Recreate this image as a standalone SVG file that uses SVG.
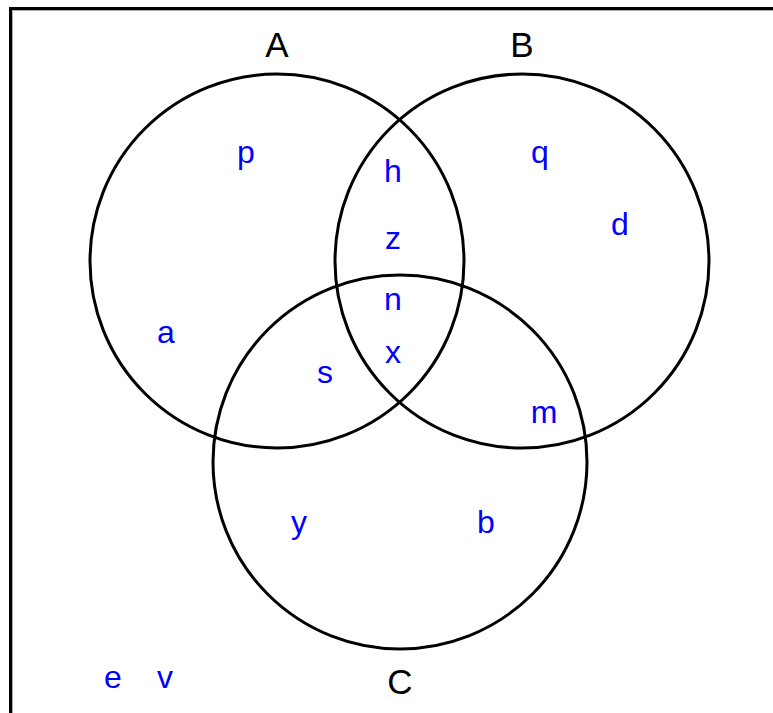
<svg xmlns="http://www.w3.org/2000/svg" width="773" height="713" viewBox="0 0 773 713">
<style>
.set{fill:none;stroke:#000;stroke-width:3}
.lbl{font-family:"Liberation Sans",Arial,sans-serif;font-size:35px;fill:#000;text-anchor:middle}
.el{font-family:"Liberation Sans",Arial,sans-serif;font-size:32px;fill:#0000ff;text-anchor:middle}
</style>
<rect x="0" y="0" width="773" height="713" fill="#fff"/>
<g id="frame">
<path d="M12.5 713 V10.5 H773" fill="none" stroke="#aaa" stroke-width="1"/>
<path d="M10.5 713 V8.5 H773" fill="none" stroke="#000" stroke-width="3"/>
</g>
<g id="setA">
<circle class="set" cx="277" cy="261" r="187"/>
<text class="lbl" x="277" y="57">A</text>
</g>
<g id="setB">
<circle class="set" cx="522" cy="261" r="187"/>
<text class="lbl" x="522" y="57">B</text>
</g>
<g id="setC">
<circle class="set" cx="400" cy="462" r="187"/>
<text class="lbl" x="400" y="694">C</text>
</g>
<g id="elements">
<text class="el" x="246" y="163">p</text>
<text class="el" x="393" y="182">h</text>
<text class="el" x="540" y="163">q</text>
<text class="el" x="620" y="235">d</text>
<text class="el" x="393" y="249">z</text>
<text class="el" x="393" y="310">n</text>
<text class="el" x="166" y="343">a</text>
<text class="el" x="393" y="363">x</text>
<text class="el" x="325" y="383">s</text>
<text class="el" x="544" y="423">m</text>
<text class="el" x="299" y="533">y</text>
<text class="el" x="486" y="533">b</text>
<text class="el" x="113" y="688">e</text>
<text class="el" x="165" y="688">v</text>
</g>
<g id="connectors"/>
</svg>
